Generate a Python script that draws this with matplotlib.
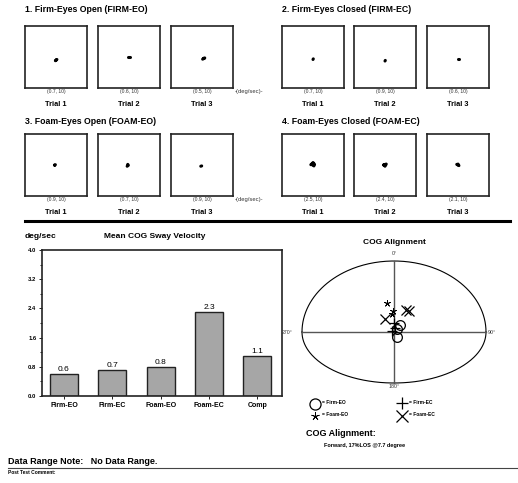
import numpy as np
import matplotlib
matplotlib.use("Agg")
import matplotlib.pyplot as plt

W, H = 518, 483
plt.rcParams['font.family'] = ['Liberation Sans', 'DejaVu Sans']

# ---- data ----
conditions = ["1. Firm-Eyes Open (FIRM-EO)", "2. Firm-Eyes Closed (FIRM-EC)",
              "3. Foam-Eyes Open (FOAM-EO)", "4. Foam-Eyes Closed (FOAM-EC)"]
trial_names = ["Trial 1", "Trial 2", "Trial 3"]
trial_vel = [[0.7, 0.6, 0.5], [0.7, 0.9, 0.6], [0.9, 0.7, 0.9], [2.5, 2.4, 2.1]]
trial_scale = 10
# small sway traces (x, y) per trial, box range is +-10
sway_x = [[[0, 0.3, -0.2], [-0.4, 0.4], [0.2, 0.9, 0.5]],
          [[0, 0.1], [0, 0.1], [0.1, 0.4]],
          [[-0.5, -0.2, -0.4], [-0.6, -0.2, -0.4], [-0.4, -0.1]],
          [[-0.7, 0.5, 0, 0.3, -0.4], [-0.5, 0.4, 0, -0.3], [-0.4, 0.3, 0]]]
sway_y = [[[-1, -0.8, -1.2], [0, 0], [-0.7, -0.3, -0.5]],
          [[-0.8, -0.6], [-1.3, -1.1], [-0.5, -0.5]],
          [[0, 0.1, -0.1], [-0.4, -0.1, 0.2], [-0.4, -0.3]],
          [[0.1, 0.2, 0.8, -0.3, 0.4], [0, 0.3, -0.4, 0.1], [0.2, -0.2, 0.3]]]

bar_cats = ["Firm-EO", "Firm-EC", "Foam-EO", "Foam-EC", "Comp"]
bar_vals = [0.6, 0.7, 0.8, 2.3, 1.1]

# COG alignment points (screen units, x right / y forward)
cog_firm_eo = ([6, 3, 3], [7, 3, -5])
cog_firm_ec = ([0, -2, 1], [9, 1, 4])
cog_foam_eo = ([-7, -1, -2], [29, 21, 18])
cog_foam_ec = ([12, 15, -9], [22, 21, 13])
los_fwd, los_back, los_side = 71, 51, 92

fig = plt.figure(figsize=(W / 100, H / 100), dpi=100)


def T(x, y, s, **kw):
    kw.setdefault('va', 'center')
    fig.text(x / W, 1 - y / H, s, **kw)


def box(x0, y0, w, h):
    return fig.add_axes([x0 / W, 1 - (y0 + h) / H, w / W, h / H])


# ---- trial boxes ----
title_pos = [(25, 10), (282, 10), (25, 121), (282, 121)]
box_lefts = [[25, 98, 171], [282, 354, 427]]
box_tops = [26, 134]
for c in range(4):
    tx, ty = title_pos[c]
    T(tx, ty, conditions[c], fontsize=6.3, fontweight='bold')
    row, col = c // 2, c % 2
    for t in range(3):
        x0 = box_lefts[col][t]
        y0 = box_tops[row]
        ax = box(x0, y0, 62, 62)
        ax.plot(sway_x[c][t], sway_y[c][t], color='black', lw=2.2,
                solid_capstyle='round')
        ax.set_xlim(-10, 10)
        ax.set_ylim(-10, 10)
        ax.set_xticks([])
        ax.set_yticks([])
        for s in ax.spines.values():
            s.set_linewidth(1.2)
            s.set_color('#222222')
        T(x0 + 31, y0 + 66, "(%s, %d)" % (trial_vel[c][t], trial_scale),
          fontsize=3.6, ha='center', color='#333333')
        T(x0 + 31, y0 + 78, trial_names[t], fontsize=5.3, fontweight='bold',
          ha='center')
    if col == 0:
        T(249, box_tops[row] + 66, "-(deg/sec)-", fontsize=4.2, ha='center',
          color='#333333')

# separators
fig.add_artist(plt.Line2D([25 / W, 510 / W], [1 - 221 / H, 1 - 221 / H],
                          color='black', lw=2.2))
fig.add_artist(plt.Line2D([8 / W, 518 / W], [1 - 468 / H, 1 - 468 / H],
                          color='#444444', lw=0.8))

# ---- bar chart ----
T(25, 237, "deg/sec", fontsize=6, fontweight='bold')
T(155, 237, "Mean COG Sway Velocity", fontsize=6, fontweight='bold', ha='center')
axb = box(42, 250, 240, 146)
xpos = np.arange(len(bar_cats))
axb.bar(xpos, bar_vals, width=0.58, color='#a6a6a6', edgecolor='#222222',
        linewidth=1.0)
for i, v in enumerate(bar_vals):
    axb.text(i, v + 0.03, "%.1f" % v, ha='center', va='bottom', fontsize=6)
axb.set_xlim(-0.455, 4.51)
axb.set_ylim(0, 4.0)
axb.set_yticks(np.arange(0, 4.01, 0.8))
axb.set_yticks(np.arange(0, 4.01, 0.4), minor=True)
axb.set_yticklabels(["%.1f" % v for v in np.arange(0, 4.01, 0.8)],
                    fontsize=4.2, fontweight='bold')
axb.set_xticks(xpos)
axb.set_xticklabels(bar_cats, fontsize=5, fontweight='bold')
axb.tick_params(axis='both', length=2, width=0.6, pad=2)
axb.tick_params(axis='y', which='minor', length=1.5, width=0.6)
for s in axb.spines.values():
    s.set_linewidth(1.2)
    s.set_color('#222222')

# ---- COG alignment ----
cx, cy = 394, 332
T(cx, 242, "COG Alignment", fontsize=6, fontweight='bold', ha='center')
axc = box(280, 245, 230, 150)
axc.set_xlim(280 - cx, 510 - cx)
axc.set_ylim(cy - 395, cy - 245)
axc.axis('off')
th = np.linspace(0, np.pi, 200)
axc.plot(los_side * np.cos(th), los_fwd * np.sin(th), color='black', lw=0.8)
axc.plot(los_side * np.cos(th), -los_back * np.sin(th), color='black', lw=0.8)
axc.plot([-los_side, los_side], [0, 0], color='#555555', lw=1.0)
axc.plot([0, 0], [-los_back, los_fwd], color='#555555', lw=1.0)
mk = dict(color='black', linestyle='none', markerfacecolor='none',
          markeredgewidth=0.9)
star = dict(mk, markeredgewidth=0.55)
axc.plot(*cog_firm_eo, marker='o', markersize=7, **mk)
axc.plot(*cog_firm_ec, marker='+', markersize=7, **mk)
axc.plot(*cog_foam_eo, marker=(5, 2, 0), markersize=5, **star)
axc.plot(*cog_foam_ec, marker='x', markersize=7, **mk)
T(cx, 254, "0°", fontsize=3.8, ha='center', color='#333333')
T(287, cy, "270°", fontsize=3.8, ha='center', color='#333333')
T(492, cy, "90°", fontsize=3.8, ha='center', color='#333333')
T(cx, 387, "180°", fontsize=3.8, ha='center', color='#333333')

# legend
axl = box(300, 395, 150, 30)
axl.set_xlim(300, 450)
axl.set_ylim(425, 395)
axl.axis('off')
leg = [((315, 404), 'o', 8, mk, "= Firm-EO"),
       ((402, 403), '+', 9, mk, "= Firm-EC"),
       ((315, 416), (5, 2, 0), 6, star, "= Foam-EO"),
       ((402, 416), 'x', 8, mk, "= Foam-EC")]
for (lx, ly), m, ms, st, lab in leg:
    axl.plot([lx], [ly], marker=m, markersize=ms, **st)
    T(lx + 7, ly - 1, lab, fontsize=3.5, fontweight='bold')

T(306, 433, "COG Alignment:", fontsize=6.5, fontweight='bold')
T(324, 446, "Forward, 17%LOS @7.7 degree", fontsize=4, fontweight='bold')

T(8, 461, "Data Range Note:   No Data Range.", fontsize=6.5, fontweight='bold')
T(8, 473, "Post Test Comment:", fontsize=3.5, fontweight='bold')

fig.savefig("out.png", dpi=100)
